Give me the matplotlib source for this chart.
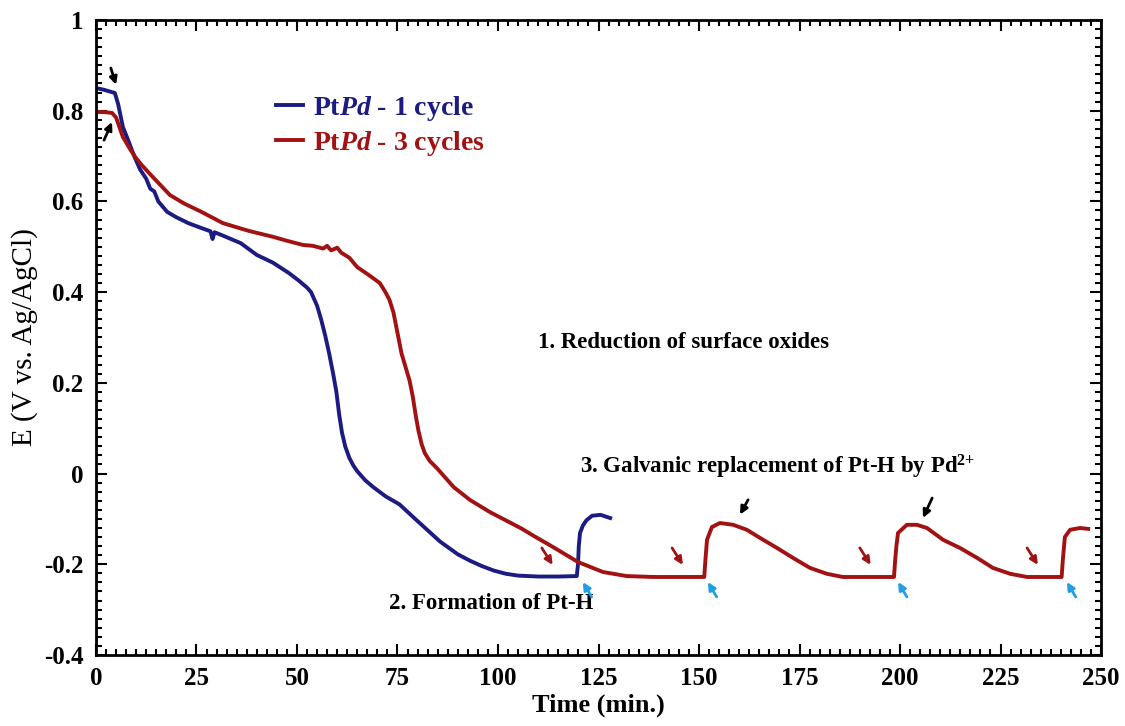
import matplotlib
matplotlib.use("Agg")
import matplotlib.pyplot as plt
from matplotlib.ticker import MultipleLocator

plt.rcParams['font.family'] = ['Liberation Serif', 'DejaVu Serif']
plt.rcParams['font.weight'] = 'bold'
plt.rcParams['mathtext.fontset'] = 'custom'
plt.rcParams['mathtext.rm'] = 'Liberation Serif:bold'
plt.rcParams['mathtext.it'] = 'Liberation Serif:italic:bold'
plt.rcParams['mathtext.bf'] = 'Liberation Serif:bold'

# chronopotentiometry, PtPd - 1 cycle
t_1cyc = [0, 2, 4.7, 5.5, 6.7, 8, 9.5, 11, 12.5, 13.5, 14.5, 15.5, 17.7, 20, 23,
          26, 28.5, 29, 29.5, 32, 36, 40, 44, 48, 50.5, 52.5, 53.5, 55, 56, 57,
          58, 59, 59.8, 60.5, 61.2, 62, 63, 64, 65, 67, 69, 72, 75.5, 79.4,
          82.5, 85.6, 90, 93, 96, 99, 102, 105, 110, 115, 119.6, 119.9, 120.1,
          120.4, 121.1, 122, 123.4, 125.5, 127.9]
E_1cyc = [0.850, 0.846, 0.839, 0.815, 0.764, 0.735, 0.70, 0.670, 0.650, 0.628,
          0.622, 0.600, 0.577, 0.565, 0.552, 0.542, 0.534, 0.517, 0.532, 0.523,
          0.508, 0.482, 0.465, 0.442, 0.425, 0.410, 0.400, 0.370, 0.340, 0.305,
          0.265, 0.220, 0.180, 0.130, 0.090, 0.060, 0.035, 0.018, 0.005, -0.015,
          -0.030, -0.050, -0.068, -0.100, -0.125, -0.150, -0.178, -0.192,
          -0.204, -0.214, -0.221, -0.225, -0.227, -0.227, -0.226, -0.200,
          -0.160, -0.131, -0.115, -0.103, -0.093, -0.091, -0.098]

# chronopotentiometry, PtPd - 3 cycles
t_3cyc = [0, 2, 4, 5, 6.7, 8.5, 10, 11.4, 14, 18.4, 22, 26, 31.6, 38, 44, 48,
          51.5, 54, 56.5, 57.5, 58.5, 60, 61, 63, 65, 67.5, 70.6, 72, 73, 74,
          75, 76, 77, 78, 78.8, 79.5, 80.2, 81, 81.8, 83, 84.8, 86.5, 89, 93,
          98, 103, 106, 109, 113.7, 119.9, 126.1, 132, 138.6, 145, 151.3,
          151.6, 151.99, 153.2, 155.2, 158.5, 161.9, 165.2, 169.4, 173.4,
          177.6, 181.8, 185.8, 192, 198.5, 198.8, 199.1, 199.5, 201.7, 204.2,
          206.7, 210.7, 214.9, 219.2, 223.1, 227.4, 231.6, 236, 240.2, 240.5,
          241.0, 242.3, 244.8, 246.8]
E_3cyc = [0.797, 0.797, 0.795, 0.785, 0.742, 0.715, 0.695, 0.680, 0.655, 0.614,
          0.595, 0.578, 0.552, 0.535, 0.522, 0.512, 0.504, 0.502, 0.496, 0.502,
          0.492, 0.498, 0.487, 0.476, 0.455, 0.440, 0.420, 0.400, 0.383, 0.355,
          0.310, 0.265, 0.235, 0.205, 0.170, 0.130, 0.095, 0.065, 0.045, 0.028,
          0.012, -0.005, -0.030, -0.058, -0.085, -0.108, -0.122, -0.138,
          -0.162, -0.195, -0.217, -0.226, -0.228, -0.228, -0.228, -0.190,
          -0.146, -0.118, -0.109, -0.113, -0.124, -0.142, -0.164, -0.186,
          -0.208, -0.221, -0.228, -0.228, -0.228, -0.190, -0.160, -0.131,
          -0.113, -0.113, -0.120, -0.146, -0.164, -0.186, -0.208, -0.221,
          -0.228, -0.228, -0.228, -0.190, -0.140, -0.124, -0.120, -0.122]

labels = [r'Pt$\mathit{Pd}$ - 1 cycle', r'Pt$\mathit{Pd}$ - 3 cycles']
colors = ['#1b1b82', '#a31212']

fig = plt.figure(figsize=(11.25, 7.26), dpi=100)
ax = fig.add_axes([0.0853, 0.0978, 0.8934, 0.8747])

ax.plot(t_1cyc, E_1cyc, color=colors[0], lw=2.8, label=labels[0],
        solid_joinstyle='round')
ax.plot(t_3cyc, E_3cyc, color=colors[1], lw=2.8, label=labels[1],
        solid_joinstyle='round')

ax.set_xlim(0, 250)
ax.set_ylim(-0.4, 1.0)
ax.xaxis.set_major_locator(MultipleLocator(25))
ax.xaxis.set_minor_locator(MultipleLocator(2.5))
ax.yaxis.set_minor_locator(MultipleLocator(0.02))
ax.set_yticks([-0.4, -0.2, 0, 0.2, 0.4, 0.6, 0.8, 1.0])
ax.set_yticklabels(['-0.4', '-0.2', '0', '0.2', '0.4', '0.6', '0.8', '1'])
ax.tick_params(which='both', direction='in', top=True, right=True,
               labelsize=18, width=1.5)
ax.tick_params(which='major', length=8, pad=9)
ax.tick_params(which='minor', length=4)
for sp in ax.spines.values():
    sp.set_linewidth(2)

ax.set_xlabel('Time (min.)', fontsize=19, fontweight='bold', labelpad=2)
ax.set_ylabel('E (V vs. Ag/AgCl)', fontsize=21, fontweight='normal', labelpad=4)

ax.legend(loc='upper left', bbox_to_anchor=(0.165, 0.905), frameon=False,
          fontsize=20, handlelength=1.0, handletextpad=0.35, labelspacing=0.2,
          borderpad=0, labelcolor='linecolor')

ax.text(110, 0.288, '1. Reduction of surface oxides', fontsize=16.5, va='center')
ax.text(73, -0.2875, '2. Formation of Pt-H', fontsize=16.5, va='center')
ax.text(120.4, 0.015, r'3. Galvanic replacement of Pt-H by Pd$^{\mathbf{2{+}}}$',
        fontsize=16.5, va='center')

# small pointer arrows
def arrow(tail, head, c):
    ax.annotate('', xy=head, xytext=tail,
                arrowprops=dict(arrowstyle='-|>,head_length=0.45,head_width=0.22',
                                color=c, lw=2, shrinkA=0, shrinkB=0))

arrow((3.7, 0.894), (5.0, 0.857), 'black')
arrow((2.0, 0.735), (4.0, 0.775), 'black')
for tt in [110.9, 143.3, 190.0, 231.6]:
    arrow((tt, -0.164), (tt + 2.7, -0.2015), '#9e1414')
for tt in [121.1, 152.2, 199.5, 241.5]:
    arrow((tt + 2.2, -0.272), (tt, -0.239), '#1e9fe8')
arrow((162.2, -0.058), (160.2, -0.0905), 'black')
arrow((208.0, -0.054), (205.7, -0.098), 'black')

fig.savefig('out.png', dpi=100)
